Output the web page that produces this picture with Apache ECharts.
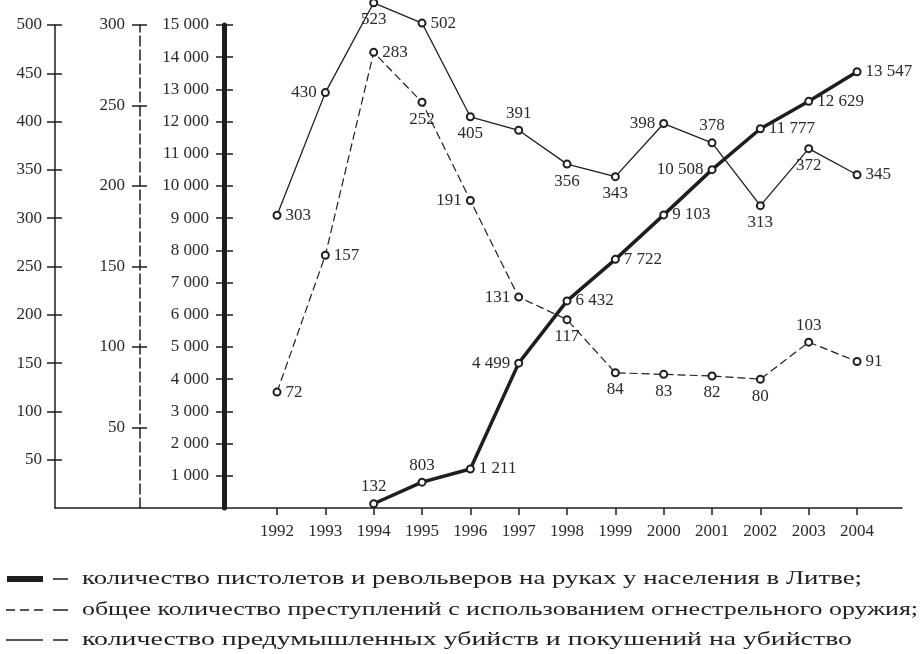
<!DOCTYPE html>
<html>
<head>
<meta charset="utf-8">
<script src="https://cdn.jsdelivr.net/npm/echarts@6/dist/echarts.min.js"></script>
<style>
html, body { margin: 0; padding: 0; background: #fff; }
#main { width: 922px; height: 654px; }
</style>
</head>
<body>
<div id="main"></div>
<script>
// годы и значения рядов
var years = [1992, 1993, 1994, 1995, 1996, 1997, 1998, 1999, 2000, 2001, 2002, 2003, 2004];
var pistols = [null, null, 132, 803, 1211, 4499, 6432, 7722, 9103, 10508, 11777, 12629, 13547];
var crimes = [72, 157, 283, 252, 191, 131, 117, 84, 83, 82, 80, 103, 91];
var murders = [303, 430, 523, 502, 405, 391, 356, 343, 398, 378, 313, 372, 345];

// где стоит подпись у каждой точки
var pistolsPos = [null, null, 'top', 'top', 'right', 'left', 'right', 'right', 'right', 'left', 'right', 'right', 'right'];
var crimesPos = ['right', 'right', 'right', 'bottom', 'left', 'left', 'bottom', 'bottom', 'bottom', 'bottom', 'bottom', 'top', 'right'];
var murdersPos = ['right', 'left', 'bottom', 'right', 'bottom', 'top', 'bottom', 'bottom', 'left', 'top', 'bottom', 'bottom', 'right'];

var legendTexts = [
    'количество пистолетов и револьверов на руках у населения в Литве;',
    'общее количество преступлений с использованием огнестрельного оружия;',
    'количество предумышленных убийств и покушений на убийство'
];
// правый край строк легенды в исходнике (текст там растянут по ширине)
var legendRight = [862, 918, 852];

var FONT = '"Liberation Serif", "Times New Roman", serif';
var INK = '#1e1e1e';

function fmt(v) {
    return String(v).replace(/\B(?=(\d{3})+(?!\d))/g, ' ');
}

function pts(vals, pos) {
    var res = [];
    for (var i = 0; i < years.length; i++) {
        if (vals[i] == null) continue;
        res.push({ value: [years[i], vals[i]], label: { position: pos[i] } });
    }
    return res;
}

function ticksOf(max, step) {
    var res = [];
    for (var v = step; v <= max; v += step) res.push(v);
    return res;
}

// ось с засечками наружу и подписями
function yAxisMain(max, step, offset, lineStyle, margin) {
    return {
        type: 'value', position: 'left', offset: offset,
        min: 0, max: max, interval: step,
        splitLine: { show: false },
        axisLine: { show: true, lineStyle: lineStyle },
        axisTick: { show: true, length: 8, customValues: ticksOf(max, step), lineStyle: { color: INK, width: 1.5 } },
        axisLabel: {
            show: true, margin: margin, color: '#2a2a2a', fontFamily: FONT, fontSize: 17,
            customValues: ticksOf(max, step),
            formatter: function (v) { return v === 0 ? '' : fmt(v); }
        }
    };
}
// та же шкала, только засечки внутрь (крестики)
function yAxisInner(max, step, offset, len) {
    return {
        type: 'value', position: 'left', offset: offset,
        min: 0, max: max, interval: step,
        splitLine: { show: false },
        axisLine: { show: false },
        axisTick: { show: true, inside: true, length: len, customValues: ticksOf(max, step), lineStyle: { color: INK, width: 1.5 } },
        axisLabel: { show: false }
    };
}

function lineSeries(name, data, yIdx, width, type) {
    return {
        name: name, type: 'line', yAxisIndex: yIdx, data: data,
        clip: false,
        symbol: 'emptyCircle', symbolSize: 7,
        lineStyle: { color: INK, width: width, type: type },
        itemStyle: { color: INK, borderColor: INK, borderWidth: 1.6 },
        label: {
            show: true, distance: 4, color: '#2a2a2a', fontFamily: FONT, fontSize: 17,
            formatter: function (p) { return fmt(p.value[1]); }
        },
        emphasis: { disabled: true },
        z: yIdx === 4 ? 4 : 3
    };
}

var measureCtx = document.createElement('canvas').getContext('2d');
var legendFont = '19px ' + FONT;
measureCtx.font = legendFont;

var legendY = [579, 610, 640];
var graphics = [];
legendTexts.forEach(function (t, i) {
    var y = legendY[i];
    if (i === 0) {
        graphics.push({ type: 'rect', shape: { x: 7, y: y - 3, width: 36, height: 6 }, style: { fill: INK } });
    } else if (i === 1) {
        graphics.push({ type: 'line', shape: { x1: 6, y1: y, x2: 44, y2: y }, style: { stroke: INK, lineWidth: 1.5, lineDash: [9, 5] } });
    } else {
        graphics.push({ type: 'line', shape: { x1: 6, y1: y, x2: 43, y2: y }, style: { stroke: INK, lineWidth: 1.5 } });
    }
    graphics.push({ type: 'line', shape: { x1: 53, y1: y, x2: 68, y2: y }, style: { stroke: INK, lineWidth: 1.5 } });
    var w = measureCtx.measureText(t).width;
    graphics.push({
        type: 'text', x: 82, y: y, scaleX: (legendRight[i] - 82) / w, style: {
            text: t, font: legendFont, fill: '#222', textVerticalAlign: 'middle'
        }
    });
});

var myChart = echarts.init(document.getElementById('main'));
var option = {
    backgroundColor: '#fff',
    animation: false,
    grid: { left: 55, right: 20, top: 25, bottom: 146, outerBoundsMode: 'none' },
    xAxis: {
        type: 'value', min: 1987.407, max: 2004.93,
        splitLine: { show: false },
        axisLine: { show: true, lineStyle: { color: INK, width: 1.5 } },
        axisTick: { show: true, length: 7, customValues: years, lineStyle: { color: INK, width: 1.5 } },
        axisLabel: { show: true, margin: 15, color: '#2a2a2a', fontFamily: FONT, fontSize: 17, customValues: years,
            formatter: function (v) { return String(v); } }
    },
    yAxis: [
        yAxisMain(500, 50, 0, { color: INK, width: 1.5 }, 13),
        yAxisInner(500, 50, 0, 7),
        yAxisMain(300, 50, -85, { color: INK, width: 1.5, type: [10, 4] }, 15),
        yAxisInner(300, 50, -85, 7),
        yAxisMain(15000, 1000, -169, { color: INK, width: 5 }, 15),
        yAxisInner(15000, 1000, -169, 9)
    ],
    series: [
        lineSeries('murders', pts(murders, murdersPos), 0, 1.3, 'solid'),
        lineSeries('crimes', pts(crimes, crimesPos), 2, 1.2, [8, 4]),
        lineSeries('pistols', pts(pistols, pistolsPos), 4, 3.5, 'solid')
    ],
    graphic: graphics
};
myChart.setOption(option);
window.onresize = myChart.resize;
</script>
</body>
</html>
